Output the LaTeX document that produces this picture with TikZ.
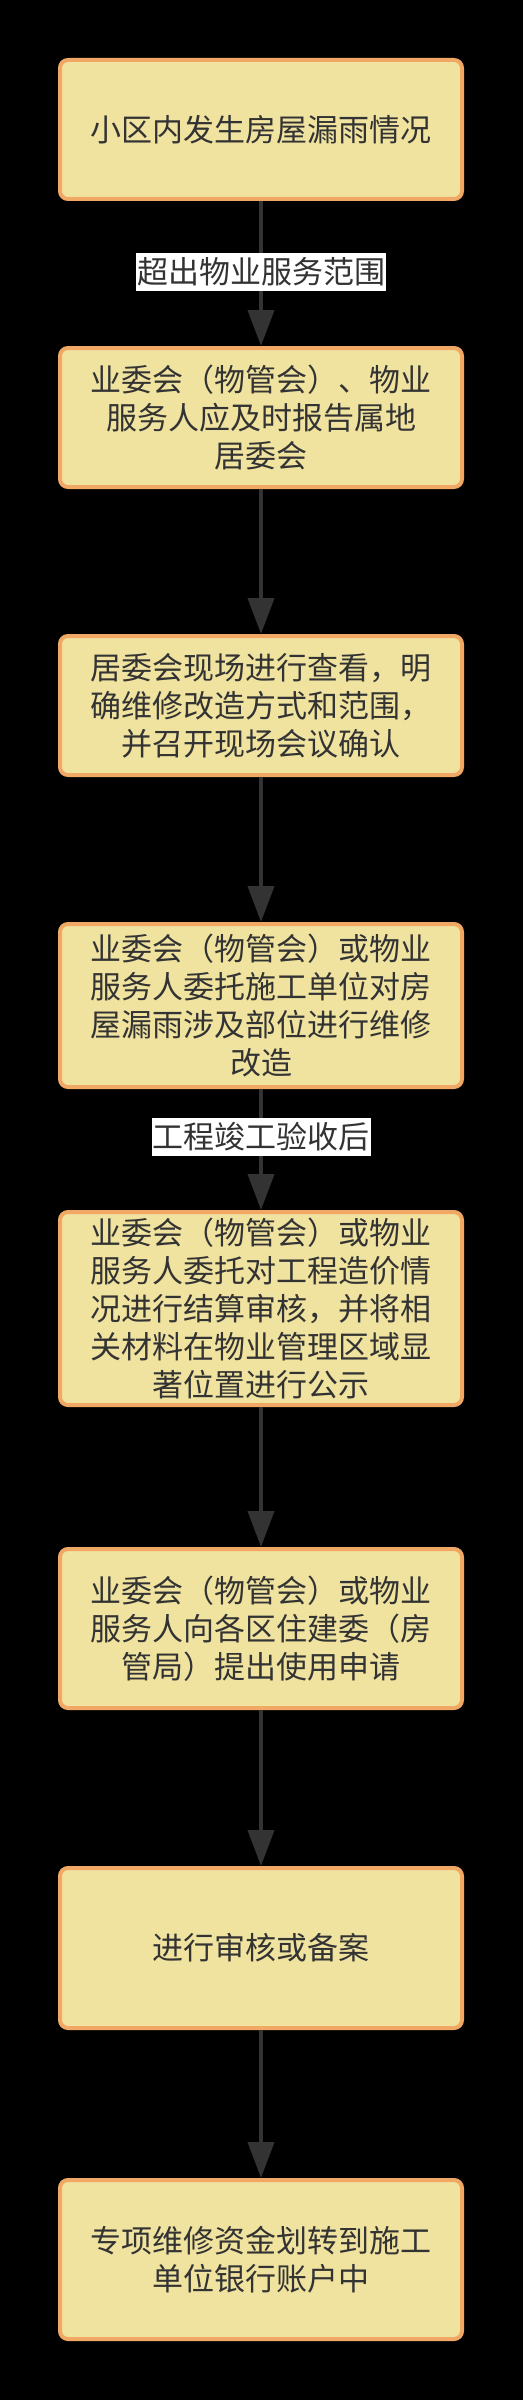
\documentclass[tikz,border=0pt]{standalone}
\usepackage{fontspec}
\setmainfont{Noto Sans CJK SC}
\usetikzlibrary{arrows.meta}
\definecolor{boxfill}{HTML}{F0E3A0}
\definecolor{boxline}{HTML}{F0A864}
\definecolor{ink}{HTML}{333333}
\definecolor{edgecol}{HTML}{333333}
\begin{document}
\begin{tikzpicture}[x=1pt,y=-1pt,
  stepbox/.style={draw=boxline, fill=boxfill, line width=4pt, rounded corners=8pt,
    minimum width=402pt, text=ink, align=center, inner sep=0pt,
    font=\fontsize{31}{38}\selectfont},
  flow/.style={draw=edgecol, line width=4pt, -{Triangle[width=26pt,length=36pt]}},
  elabel/.style={fill=white, text=ink, inner xsep=1pt, inner ysep=0pt,
    minimum height=38pt, font=\fontsize{31}{38}\selectfont}]
\fill[black] (0,0) rectangle (523,2400);

\node[stepbox, minimum height=139pt] (b1) at (261,129.5) {小区内发生房屋漏雨情况};
\node[stepbox, minimum height=139pt] (b2) at (261,417.5) {业委会（物管会）、物业\\服务人应及时报告属地\\居委会};
\node[stepbox, minimum height=139pt] (b3) at (261,705.5) {居委会现场进行查看，明\\确维修改造方式和范围，\\并召开现场会议确认};
\node[stepbox, minimum height=163pt] (b4) at (261,1005.5) {业委会（物管会）或物业\\服务人委托施工单位对房\\屋漏雨涉及部位进行维修\\改造};
\node[stepbox, minimum height=193pt] (b5) at (261,1308.5) {业委会（物管会）或物业\\服务人委托对工程造价情\\况进行结算审核，并将相\\关材料在物业管理区域显\\著位置进行公示};
\node[stepbox, minimum height=159pt] (b6) at (261,1628.5) {业委会（物管会）或物业\\服务人向各区住建委（房\\管局）提出使用申请};
\node[stepbox, minimum height=160pt] (b7) at (261,1948) {进行审核或备案};
\node[stepbox, minimum height=159pt] (b8) at (261,2259.5) {专项维修资金划转到施工\\单位银行账户中};

\draw[flow] (b1) -- (b2);
\draw[flow] (b2) -- (b3);
\draw[flow] (b3) -- (b4);
\draw[flow] (b4) -- (b5);
\draw[flow] (b5) -- (b6);
\draw[flow] (b6) -- (b7);
\draw[flow] (b7) -- (b8);

\node[elabel] (l1) at (261,272) {超出物业服务范围};
\node[elabel] (l2) at (261,1137) {工程竣工验收后};
\end{tikzpicture}
\end{document}
